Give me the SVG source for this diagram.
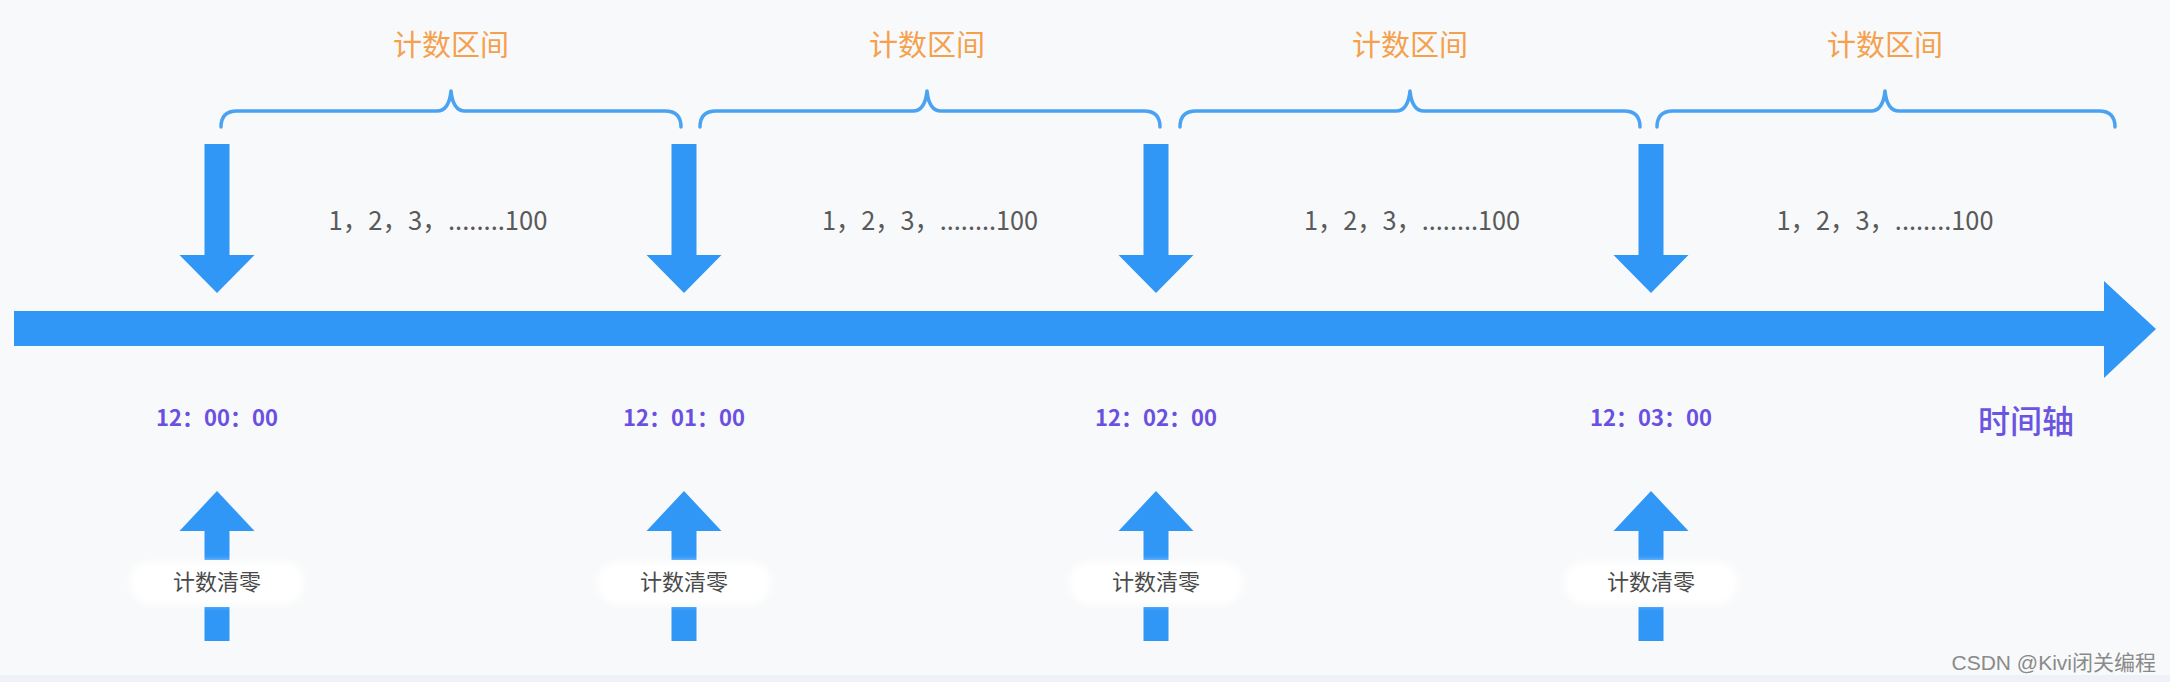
<svg xmlns="http://www.w3.org/2000/svg" width="2170" height="682" viewBox="0 0 2170 682">
<style>
.arrow{fill:#3097F7}
.brace{fill:none;stroke:#4AA2F2;stroke-width:3.5;stroke-linecap:round;stroke-linejoin:round}
.lbl{font-family:"Noto Sans CJK SC",sans-serif;font-size:29px;fill:#F5A04C;text-anchor:middle}
.cnt{font-family:"Noto Sans CJK SC",sans-serif;font-size:26px;fill:#5A5A5A;text-anchor:middle}
.time{font-family:"Noto Sans CJK SC",sans-serif;font-size:22px;font-weight:600;fill:#6A50E2;text-anchor:middle}
.reset{font-family:"Noto Sans CJK SC",sans-serif;font-size:22px;fill:#4A4A4A;text-anchor:middle}
.box{fill:#FFFFFF}
</style>
<defs>
<filter id="soft" x="-10%" y="-40%" width="120%" height="180%"><feGaussianBlur stdDeviation="3"/></filter>
</defs>
<rect width="2170" height="682" fill="#F8F9FA"/>
<rect y="675" width="2170" height="7" fill="#EEF1F7"/>

<g id="connectors">
  <polygon class="arrow" points="14,311 2104,311 2104,281 2156,329 2104,378 2104,346 14,346"/>
  <polygon class="arrow" points="204.5,144 229.5,144 229.5,255 254.5,255 217,293 179.5,255 204.5,255"/>
  <polygon class="arrow" points="671.5,144 696.5,144 696.5,255 721.5,255 684,293 646.5,255 671.5,255"/>
  <polygon class="arrow" points="1143.5,144 1168.5,144 1168.5,255 1193.5,255 1156,293 1118.5,255 1143.5,255"/>
  <polygon class="arrow" points="1638.5,144 1663.5,144 1663.5,255 1688.5,255 1651,293 1613.5,255 1638.5,255"/>
  <polygon class="arrow" points="217,491 254.5,531 229.5,531 229.5,560 204.5,560 204.5,531 179.5,531"/>
  <rect class="arrow" x="204.5" y="607" width="25" height="34"/>
  <polygon class="arrow" points="684,491 721.5,531 696.5,531 696.5,560 671.5,560 671.5,531 646.5,531"/>
  <rect class="arrow" x="671.5" y="607" width="25" height="34"/>
  <polygon class="arrow" points="1156,491 1193.5,531 1168.5,531 1168.5,560 1143.5,560 1143.5,531 1118.5,531"/>
  <rect class="arrow" x="1143.5" y="607" width="25" height="34"/>
  <polygon class="arrow" points="1651,491 1688.5,531 1663.5,531 1663.5,560 1638.5,560 1638.5,531 1613.5,531"/>
  <rect class="arrow" x="1638.5" y="607" width="25" height="34"/>
  <path class="brace" d="M221,127 Q221,111 237,111 L437,111 Q449,111 451,91 Q453,111 465,111 L665,111 Q681,111 681,127"/>
  <path class="brace" d="M700,127 Q700,111 716,111 L913,111 Q925,111 927,91 Q929,111 941,111 L1144,111 Q1160,111 1160,127"/>
  <path class="brace" d="M1180,127 Q1180,111 1196,111 L1396,111 Q1408,111 1410,91 Q1412,111 1424,111 L1624,111 Q1640,111 1640,127"/>
  <path class="brace" d="M1657,127 Q1657,111 1673,111 L1871,111 Q1883,111 1885,91 Q1887,111 1899,111 L2099,111 Q2115,111 2115,127"/>
</g>

<g id="interval1"><text class="lbl" x="451" y="56">计数区间</text><text class="cnt" x="438" y="230" textLength="219" lengthAdjust="spacingAndGlyphs">1，2，3，........100</text></g>
<g id="interval2"><text class="lbl" x="927" y="56">计数区间</text><text class="cnt" x="930" y="230" textLength="216" lengthAdjust="spacingAndGlyphs">1，2，3，........100</text></g>
<g id="interval3"><text class="lbl" x="1410" y="56">计数区间</text><text class="cnt" x="1412" y="230" textLength="216" lengthAdjust="spacingAndGlyphs">1，2，3，........100</text></g>
<g id="interval4"><text class="lbl" x="1885" y="56">计数区间</text><text class="cnt" x="1885" y="230" textLength="217" lengthAdjust="spacingAndGlyphs">1，2，3，........100</text></g>

<g id="time1"><text class="time" x="217" y="426">12：00：00</text></g>
<g id="time2"><text class="time" x="684" y="426">12：01：00</text></g>
<g id="time3"><text class="time" x="1156" y="426">12：02：00</text></g>
<g id="time4"><text class="time" x="1651" y="426">12：03：00</text></g>
<g id="axis-label"><text x="2026" y="433" font-family="'Noto Sans CJK SC',sans-serif" font-size="32" font-weight="500" fill="#6A55E0" text-anchor="middle">时间轴</text></g>

<g id="reset1"><rect class="box" x="130" y="562" width="174" height="42" rx="20" filter="url(#soft)"/><text class="reset" x="217" y="590">计数清零</text></g>
<g id="reset2"><rect class="box" x="597" y="562" width="174" height="42" rx="20" filter="url(#soft)"/><text class="reset" x="684" y="590">计数清零</text></g>
<g id="reset3"><rect class="box" x="1069" y="562" width="174" height="42" rx="20" filter="url(#soft)"/><text class="reset" x="1156" y="590">计数清零</text></g>
<g id="reset4"><rect class="box" x="1564" y="562" width="174" height="42" rx="20" filter="url(#soft)"/><text class="reset" x="1651" y="590">计数清零</text></g>

<g id="watermark"><text x="2156" y="670" font-family="'Liberation Sans','Noto Sans CJK SC',sans-serif" font-size="21" fill="#8A8A8A" text-anchor="end">CSDN @Kivi闭关编程</text></g>
</svg>
